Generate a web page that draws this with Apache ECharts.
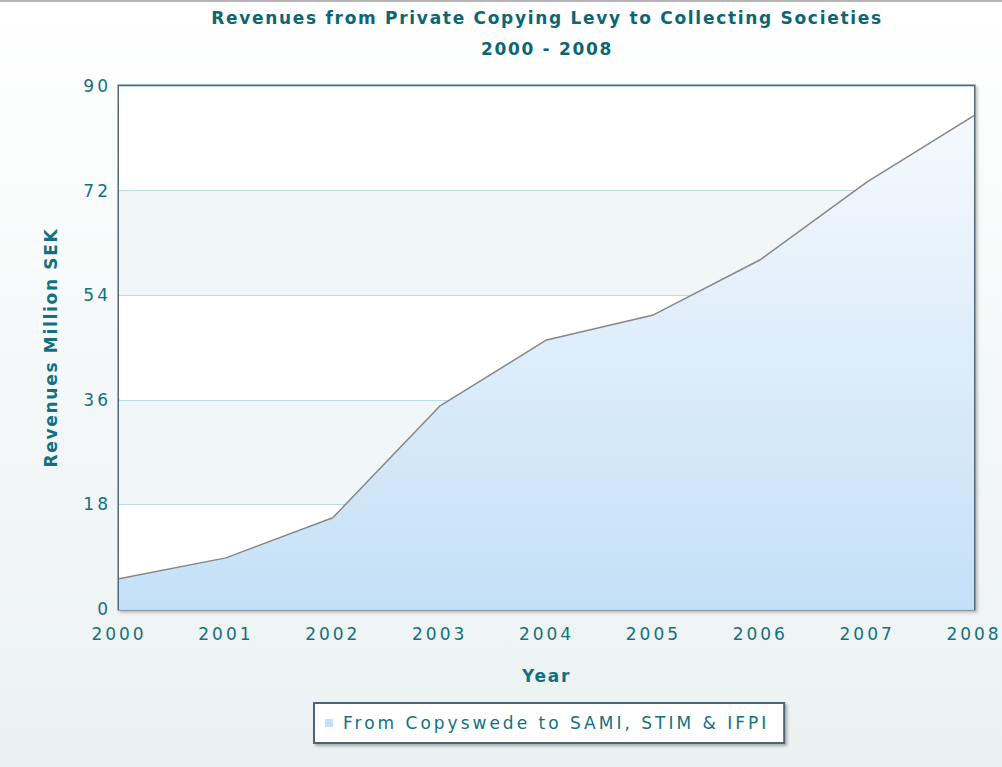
<!DOCTYPE html>
<html>
<head>
<meta charset="utf-8">
<script src="https://cdn.jsdelivr.net/npm/echarts@6/dist/echarts.min.js"></script>
<style>
	html, body { margin: 0; padding: 0; background: #fff; }
	#chart { width: 1002px; height: 767px; }
	/* the original uses wide letter spacing on its labels */
	#chart text { letter-spacing: 3px; }
	#chart text[style*="Verdana"] { letter-spacing: 1.7px; }
	#chart text[style*="Tahoma"] { letter-spacing: 1.7px; }
</style>
</head>
<body>
<div id="chart"></div>
<script>
const years = ['2000', '2001', '2002', '2003', '2004', '2005', '2006', '2007', '2008']
// million SEK
const revenues = [5.2, 8.8, 15.7, 34.9, 46.3, 50.6, 60.1, 73.5, 84.9]
const yMin = 0
const yMax = 90
const yStep = 18
const seriesName = 'From Copyswede to SAMI, STIM & IFPI'

const teal = '#13717f'
const titleTeal = '#0d6673'
const labelFont = 'DejaVu Sans'
const titleFont = 'DejaVu Sans, Verdana'
const nameFont = 'DejaVu Sans, Tahoma'

let myChart = echarts.init(document.getElementById('chart'), null, { renderer: 'svg' })
let option = {
	backgroundColor: new echarts.graphic.LinearGradient(0, 0, 0, 1, [
		{ offset: 0, color: '#ffffff' },
		{ offset: 1, color: '#ebf1f2' }
	]),
	title: {
		text: 'Revenues from Private Copying Levy to Collecting Societies',
		subtext: '2000 - 2008',
		// centred over the plot, not the page
		left: 542,
		textAlign: 'center',
		top: 3,
		itemGap: 11,
		textStyle: {
			color: titleTeal,
			fontFamily: titleFont,
			fontWeight: 'bold',
			fontSize: 17,
			lineHeight: 20
		},
		subtextStyle: {
			color: titleTeal,
			fontFamily: titleFont,
			fontWeight: 'bold',
			fontSize: 17,
			lineHeight: 20
		}
	},
	legend: {
		data: [seriesName],
		left: 314,
		top: 703,
		icon: 'rect',
		itemWidth: 8,
		itemHeight: 8,
		padding: [11, 120, 11, 11],
		backgroundColor: '#ffffff',
		borderColor: '#4f6473',
		borderWidth: 2,
		shadowColor: 'rgba(0, 0, 0, 0.3)',
		shadowBlur: 3,
		shadowOffsetX: 2,
		shadowOffsetY: 2,
		textStyle: {
			color: teal,
			fontFamily: labelFont,
			fontSize: 17,
			lineHeight: 18,
			padding: [0, 0, 0, 5]
		}
	},
	grid: {
		show: true,
		left: 119,
		right: 28,
		top: 86,
		bottom: 158,
		backgroundColor: '#ffffff',
		borderColor: '#536979',
		borderWidth: 3,
		shadowColor: 'rgba(0, 0, 0, 0.25)',
		shadowBlur: 3,
		shadowOffsetX: 2,
		shadowOffsetY: 2
	},
	xAxis: {
		type: 'category',
		data: years,
		boundaryGap: false,
		name: 'Year',
		nameLocation: 'middle',
		nameGap: 58,
		nameTextStyle: {
			color: teal,
			fontFamily: nameFont,
			fontWeight: 'bold',
			fontSize: 17
		},
		axisLine: { show: false },
		axisTick: { show: false },
		axisLabel: {
			color: teal,
			fontFamily: labelFont,
			fontSize: 17,
			margin: 16
		},
		splitLine: { show: false }
	},
	yAxis: {
		type: 'value',
		min: yMin,
		max: yMax,
		interval: yStep,
		name: 'Revenues Million SEK',
		nameLocation: 'middle',
		nameGap: 60,
		nameTextStyle: {
			color: teal,
			fontFamily: nameFont,
			fontWeight: 'bold',
			fontSize: 17
		},
		axisLine: { show: false },
		axisTick: { show: false },
		axisLabel: {
			color: teal,
			fontFamily: labelFont,
			fontSize: 17,
			margin: 8
		},
		splitLine: {
			lineStyle: { color: '#bcdde6', width: 1 }
		},
		splitArea: {
			show: true,
			areaStyle: { color: ['#ffffff', '#f1f6f8'] }
		}
	},
	series: [
		{
			name: seriesName,
			type: 'line',
			data: revenues,
			showSymbol: false,
			symbol: 'none',
			lineStyle: { color: '#878787', width: 1.5 },
			itemStyle: { color: '#c6e1f7' },
			areaStyle: {
				opacity: 1,
				color: new echarts.graphic.LinearGradient(0, 0, 0, 1, [
					{ offset: 0, color: '#f5f9fd' },
					{ offset: 1, color: '#c4e0f7' }
				])
			}
		}
	],
	graphic: [
		{
			type: 'rect',
			left: 0,
			top: 0,
			shape: { width: 1002, height: 2 },
			style: { fill: '#b4b4b4' }
		}
	]
}
myChart.setOption(option)
</script>
</body>
</html>
